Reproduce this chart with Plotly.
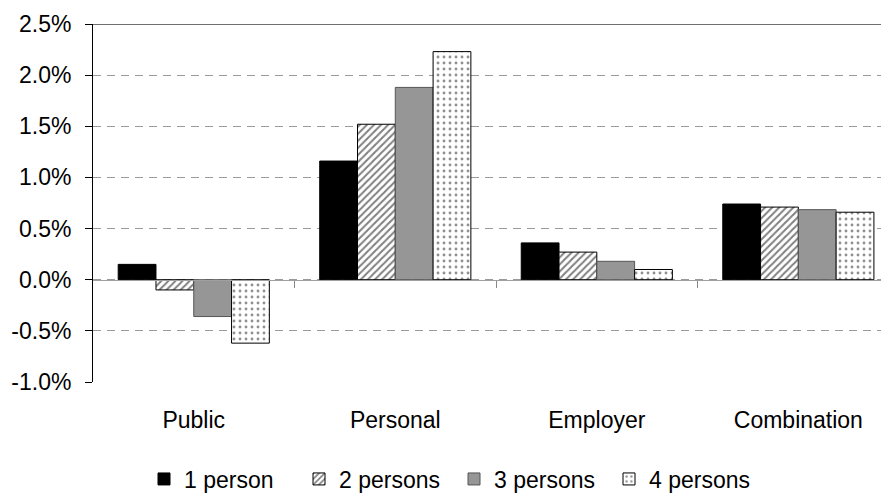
import plotly.graph_objects as go

categories = ["Public", "Personal", "Employer", "Combination"]
series_names = ["1 person", "2 persons", "3 persons", "4 persons"]
one_person = [0.15, 1.16, 0.36, 0.74]
two_persons = [-0.10, 1.52, 0.27, 0.71]
three_persons = [-0.36, 1.88, 0.18, 0.685]
four_persons = [-0.62, 2.23, 0.10, 0.66]
y_ticks = [-1.0, -0.5, 0.0, 0.5, 1.0, 1.5, 2.0, 2.5]
y_tick_text = ["-1.0%", "-0.5%", "0.0%", "0.5%", "1.0%", "1.5%", "2.0%", "2.5%"]

values = [one_person, two_persons, three_persons, four_persons]
styles = [
    dict(color="black", pattern=dict(shape="")),
    dict(color="white", pattern=dict(shape="/", fgcolor="black", bgcolor="white", size=5, solidity=0.4)),
    dict(color="#969696", pattern=dict(shape="")),
    dict(color="white", pattern=dict(shape=".", fgcolor="#222222", bgcolor="white", size=6, solidity=0.18)),
]
line_colors = ["black", "black", "#555555", "black"]

FONT = "Liberation Sans, Arial, sans-serif"
FS = 23
# page body has an 8px default margin; the figure is sized to fit inside the window
W, H = 881, 487
fig = go.Figure()
for name, vals, st, lc in zip(series_names, values, styles, line_colors):
    fig.add_trace(go.Bar(
        x=list(range(len(categories))), y=vals, name=name,
        marker=dict(color=st["color"], pattern=st["pattern"], line=dict(color=lc, width=1)),
    ))

# invisible trace to activate the secondary axis at y=0
fig.add_trace(go.Scatter(x=[0], y=[0], xaxis="x2", mode="markers",
                         marker=dict(opacity=0), showlegend=False, hoverinfo="skip"))

xr = [-0.5, 3.43]
ymin, ymax = -1.0, 2.5
fig.update_layout(
    width=W, height=H,
    margin=dict(l=85, r=4, t=16, b=113, autoexpand=False),
    paper_bgcolor="white", plot_bgcolor="white",
    font=dict(family=FONT, size=FS, color="black"),
    barmode="group", bargap=0.25, bargroupgap=0,
    showlegend=True,
    legend=dict(orientation="h", xref="container", yref="container",
                x=(452 - 6) / W, xanchor="center", y=16 / H, yanchor="middle",
                font=dict(size=FS), itemwidth=30, traceorder="normal",
                entrywidth=110, entrywidthmode="pixels"),
    xaxis=dict(range=xr, tickmode="array", tickvals=list(range(len(categories))),
               ticktext=categories, showline=False, showgrid=False, zeroline=False,
               ticks="", ticklabelstandoff=22, automargin=False),
    xaxis2=dict(range=xr, overlaying="x", anchor="free",
                position=(0 - ymin) / (ymax - ymin), type="linear",
                tickmode="array", tickvals=[0.5, 1.5, 2.5], ticks="outside", ticklen=7,
                tickcolor="#888888", showticklabels=False, showline=True, linecolor="#a0a0a0",
                linewidth=1, showgrid=False, zeroline=False, automargin=False),
    yaxis=dict(range=[ymin, ymax], tickmode="array", tickvals=y_ticks, ticktext=y_tick_text,
               showline=True, linecolor="black", linewidth=1, ticks="outside", ticklen=7,
               tickcolor="black", showgrid=True, gridcolor="#9a9a9a", griddash="8px,6px",
               gridwidth=1, zeroline=False, ticklabelstandoff=9, automargin=False),
    shapes=[dict(type="line", xref="paper", yref="y", x0=0, x1=1, y0=ymax, y1=ymax,
                 line=dict(color="#404040", width=1.5))],
)
fig.write_html("out.html")
